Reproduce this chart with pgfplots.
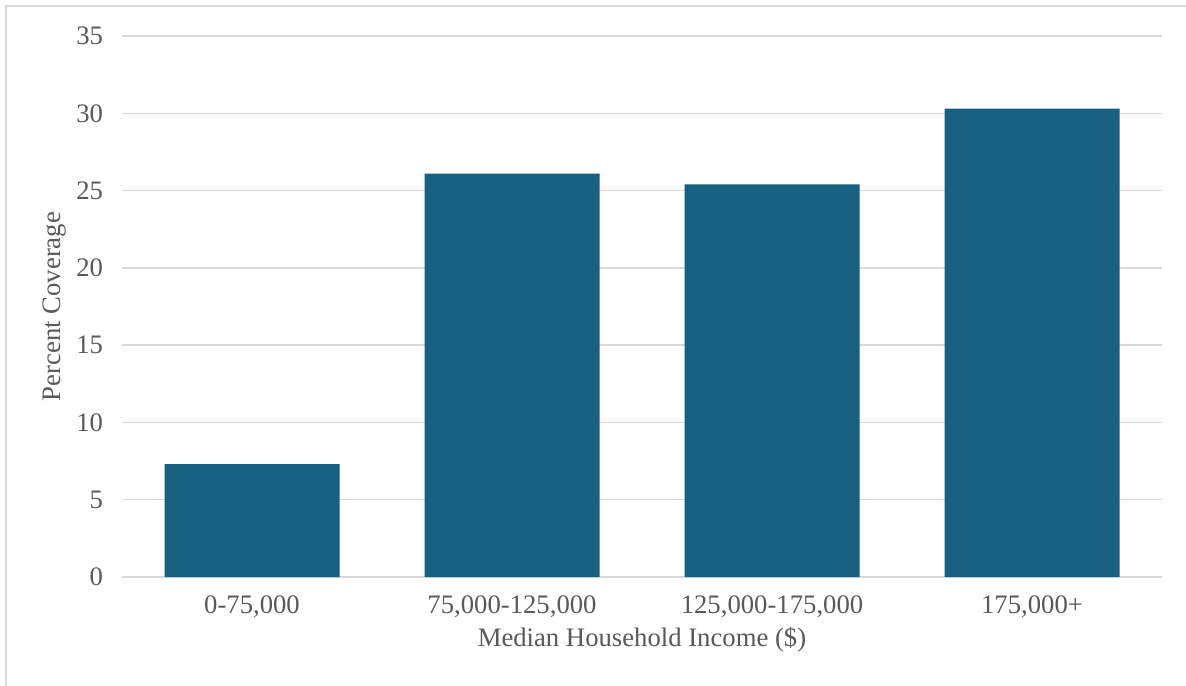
\documentclass[border=0pt]{standalone}
\usepackage{fontspec}
\setmainfont{Liberation Serif}
\usepackage{pgfplots}
\pgfplotsset{compat=1.18}
\definecolor{barblue}{RGB}{23,96,128}
\definecolor{gridgray}{RGB}{217,217,217}
\definecolor{textgray}{RGB}{89,89,89}
\begin{document}
\begin{tikzpicture}
\useasboundingbox (0,0) rectangle (593bp,343bp);
\draw[gridgray, line width=1bp] (3bp,0) -- (3bp,340bp) -- (593bp,340bp);
\begin{axis}[
  at={(61bp,54.5bp)}, anchor=south west,
  scale only axis, width=520bp, height=270.5bp,
  xmin=-0.5, xmax=3.5, ymin=0, ymax=35,
  ytick={0,5,...,35},
  xtick=data,
  xticklabels={{0-75,000}, {75,000-125,000}, {125,000-175,000}, {175,000+}},
  ybar, bar width=87.5bp, bar shift=0pt,
  axis x line*=bottom,
  axis y line*=left,
  x axis line style={draw=gridgray, line width=0.7bp, -},
  y axis line style={draw=none},
  ymajorgrids, grid style={gridgray, line width=0.7bp},
  major tick length=0pt,
  tick label style={font=\fontsize{13.4}{15}\selectfont, text=textgray},
  /pgf/number format/assume math mode=true,
  yticklabel style={xshift=-6bp},
  xticklabel style={yshift=-6bp},
  label style={font=\fontsize{13.4}{15}\selectfont, text=textgray},
  xlabel={Median Household Income (\$)},
  ylabel={Percent Coverage},
  xlabel style={at={(axis description cs:0.5,0)}, anchor=center, yshift=-31.5bp},
  ylabel style={at={(axis description cs:0,0.5)}, anchor=center, yshift=33.5bp},
  clip=false,
]
\addplot[fill=barblue, draw=none] coordinates {(0,7.3) (1,26.1) (2,25.4) (3,30.3)};
\end{axis}
\end{tikzpicture}
\end{document}
